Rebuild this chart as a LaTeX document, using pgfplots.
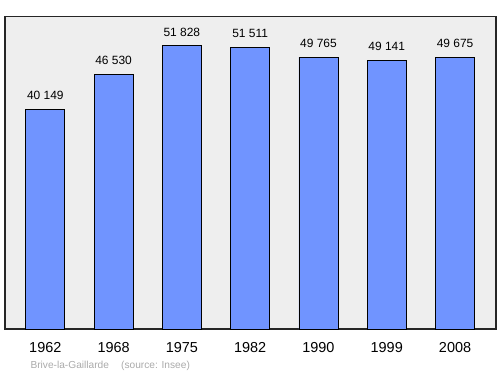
\documentclass[border=0pt]{standalone}
\usepackage{pgfplots}
\pgfplotsset{compat=1.18}
\usepackage{fontspec}
\setmainfont{Liberation Sans}
\definecolor{barblue}{RGB}{112,148,255}
\definecolor{bggray}{RGB}{238,238,238}
\definecolor{footgray}{RGB}{170,170,170}
\begin{document}
\begin{tikzpicture}[x=1bp,y=1bp]
\useasboundingbox (0,0) rectangle (500,374);
\begin{axis}[
  at={(5bp,45bp)}, anchor=south west,
  scale only axis, width=491bp, height=312.5bp,
  xmin=-0.59, xmax=6.6, ymin=0, ymax=57200,
  axis background/.style={fill=bggray},
  axis line style={black!85, line width=1.2bp},
  xtick={0,1,2,3,4,5,6},
  xticklabels={1962,1968,1975,1982,1990,1999,2008},
  xticklabel style={font=\fontsize{14.5}{16}\selectfont, yshift=-10bp},
  major tick length=0pt,
  ytick=\empty,
  /pgf/number format/assume math mode=true,
  clip=false,
]
\addplot[ybar, bar width=0.571, fill=barblue, draw=black, line width=0.8bp,
  point meta=explicit symbolic,
  nodes near coords, nodes near coords align={vertical},
  every node near coord/.append style={font=\fontsize{12}{14}\selectfont, black, yshift=6bp}]
coordinates {
 (0,40149) [40 149]
 (1,46530) [46 530]
 (2,51828) [51 828]
 (3,51511) [51 511]
 (4,49765) [49 765]
 (5,49141) [49 141]
 (6,49675) [49 675]
};
\end{axis}
\node[anchor=west, text=footgray, font=\fontsize{10.2}{12}\selectfont] at (27,8) {Brive-la-Gaillarde\hspace{1.2em}(source: Insee)};
\end{tikzpicture}
\end{document}
